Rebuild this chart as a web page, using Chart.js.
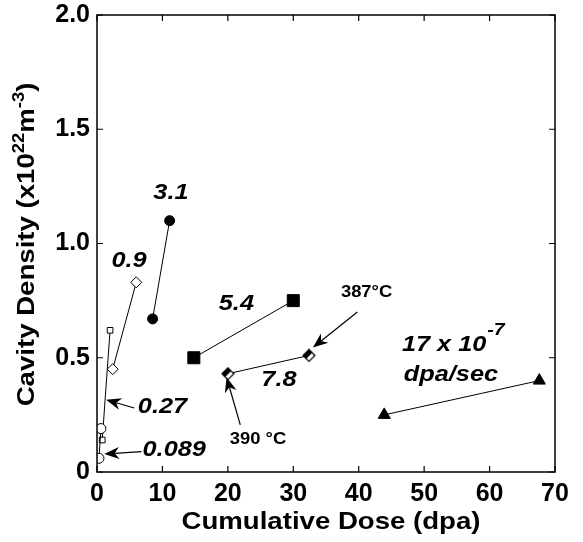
<!DOCTYPE html>
<html>
<head>
<meta charset="utf-8">
<script src="https://cdn.jsdelivr.net/npm/chart.js@4.4.0/dist/chart.umd.min.js"></script>
<style>
  html, body { margin: 0; padding: 0; background: #fff; }
  #wrap { width: 583px; height: 542px; }
</style>
</head>
<body>
<div id="wrap"><canvas id="c"></canvas></div>
<script>
// === Data (dose in dpa, cavity density in 1e22 m^-3) ===
const X_TICKS = [0, 10, 20, 30, 40, 50, 60, 70];
const Y_TICKS = [0, 0.5, 1.0, 1.5, 2.0];

const rate0089 = [{ x: 0.3, y: 0.06 }, { x: 0.6, y: 0.19 }];
const rate027 = [{ x: 0.8, y: 0.14 }, { x: 2.0, y: 0.62 }];
const rate09 = [{ x: 2.4, y: 0.45 }, { x: 6.0, y: 0.83 }];
const rate31 = [{ x: 8.5, y: 0.67 }, { x: 11.1, y: 1.10 }];
const rate54 = [{ x: 14.8, y: 0.50 }, { x: 30.0, y: 0.75 }];
const rate78 = [{ x: 20.0, y: 0.43 }, { x: 32.4, y: 0.51 }];
const rate17 = [{ x: 43.9, y: 0.25 }, { x: 67.6, y: 0.40 }];

// text labels, placed in data units (centre)
const LABELS = [
    { text: '3.1', x: 11.3, y: 1.22, style: 'big' },
    { text: '0.9', x: 4.9, y: 0.925, style: 'big' },
    { text: '5.4', x: 21.3, y: 0.735, style: 'big' },
    { text: '7.8', x: 27.8, y: 0.405, style: 'big' },
    { text: '0.27', x: 10.0, y: 0.285, style: 'big' },
    { text: '0.089', x: 11.8, y: 0.095, style: 'big' },
    { text: '387°C', x: 41.2, y: 0.785, style: 'small' },
    { text: '390 °C', x: 24.6, y: 0.14, style: 'small' },
    { text: 'dpa/sec', x: 54.1, y: 0.425, style: 'big' }
];

// arrows: tail -> head, data units
const ARROWS = [
    { from: [6.8, 0.089], to: [1.1, 0.079] },
    { from: [5.7, 0.28], to: [1.4, 0.316] },
    { from: [21.9, 0.206], to: [19.8, 0.415] },
    { from: [39.8, 0.70], to: [33.0, 0.545] }
];

const FAMILY = '"Liberation Sans", Arial, sans-serif';
const STRETCH = 1.15; // the original lettering is a bit wider than Liberation

// half-filled diamond used for the 7.8 series
function halfDiamond(r) {
    const c = document.createElement('canvas');
    const s = Math.ceil(r * 2 + 2);
    c.width = s; c.height = s;
    const g = c.getContext('2d');
    const m = s / 2;
    g.beginPath();
    g.moveTo(m, m - r); g.lineTo(m + r, m); g.lineTo(m, m + r); g.lineTo(m - r, m); g.closePath();
    g.fillStyle = '#fff'; g.fill();
    g.beginPath();
    g.moveTo(m, m - r); g.lineTo(m + r * 0.55, m - r * 0.45); g.lineTo(m - r * 0.45, m + r * 0.55); g.lineTo(m - r, m); g.closePath();
    g.fillStyle = '#000'; g.fill();
    g.beginPath();
    g.moveTo(m, m - r); g.lineTo(m + r, m); g.lineTo(m, m + r); g.lineTo(m - r, m); g.closePath();
    g.lineWidth = 1.2; g.strokeStyle = '#000'; g.stroke();
    return c;
}

function series(data, style, radius, filled) {
    return {
        data,
        showLine: true,
        borderColor: '#000',
        borderWidth: 1,
        pointStyle: style,
        pointRadius: radius,
        pointHoverRadius: radius,
        pointBorderColor: '#000',
        pointBorderWidth: 1,
        pointBackgroundColor: filled ? '#000' : '#fff'
    };
}

function wideText(ctx, text, x, y, align) {
    ctx.save();
    ctx.translate(x, y);
    ctx.scale(STRETCH, 1);
    ctx.textAlign = align || 'center';
    ctx.fillText(text, 0, 0);
    ctx.restore();
    return ctx.measureText(text).width * STRETCH;
}

const decor = {
    id: 'decor',
    afterDatasetsDraw(chart) {
        const { ctx, chartArea: a, scales: { x, y } } = chart;
        ctx.save();
        ctx.strokeStyle = '#000';
        ctx.fillStyle = '#000';
        // frame
        ctx.lineWidth = 1.5;
        ctx.strokeRect(a.left, a.top, a.right - a.left, a.bottom - a.top);
        // inward ticks on all sides
        ctx.lineWidth = 1.2;
        ctx.beginPath();
        X_TICKS.forEach(v => {
            const px = x.getPixelForValue(v);
            ctx.moveTo(px, a.bottom); ctx.lineTo(px, a.bottom - 6);
            ctx.moveTo(px, a.top); ctx.lineTo(px, a.top + 6);
        });
        Y_TICKS.forEach(v => {
            const py = y.getPixelForValue(v);
            ctx.moveTo(a.left, py); ctx.lineTo(a.left + 6, py);
            ctx.moveTo(a.right, py); ctx.lineTo(a.right - 6, py);
        });
        ctx.stroke();

        // arrows
        ARROWS.forEach(ar => {
            const x0 = x.getPixelForValue(ar.from[0]), y0 = y.getPixelForValue(ar.from[1]);
            const x1 = x.getPixelForValue(ar.to[0]), y1 = y.getPixelForValue(ar.to[1]);
            const ang = Math.atan2(y1 - y0, x1 - x0);
            const L = 15, W = 6;
            const cs = Math.cos(ang), sn = Math.sin(ang);
            ctx.lineWidth = 1.2;
            ctx.beginPath();
            ctx.moveTo(x0, y0);
            ctx.lineTo(x1 - cs * L * 0.7, y1 - sn * L * 0.7);
            ctx.stroke();
            ctx.beginPath();
            ctx.moveTo(x1, y1);
            ctx.lineTo(x1 - cs * L - sn * W, y1 - sn * L + cs * W);
            ctx.lineTo(x1 - cs * L * 0.7, y1 - sn * L * 0.7);
            ctx.lineTo(x1 - cs * L + sn * W, y1 - sn * L - cs * W);
            ctx.closePath();
            ctx.fill();
        });

        // labels
        ctx.textBaseline = 'middle';
        LABELS.forEach(l => {
            ctx.font = l.style === 'big' ? `italic bold 22px ${FAMILY}` : `bold 16px ${FAMILY}`;
            wideText(ctx, l.text, x.getPixelForValue(l.x), y.getPixelForValue(l.y));
        });

        // "17 x 10^-7"
        ctx.font = `italic bold 22px ${FAMILY}`;
        const bx = x.getPixelForValue(46.6), by = y.getPixelForValue(0.557);
        const w = wideText(ctx, '17 x 10', bx, by, 'left');
        ctx.font = `italic bold 17px ${FAMILY}`;
        wideText(ctx, '-7', bx + w + 1, by - 14, 'left');

        // x title
        ctx.font = `bold 24px ${FAMILY}`;
        wideText(ctx, 'Cumulative Dose (dpa)', (a.left + a.right) / 2 + 5, a.bottom + 50);

        // y title with superscripts
        ctx.translate(34, (a.top + a.bottom) / 2 + 1);
        ctx.rotate(-Math.PI / 2);
        ctx.scale(STRETCH, 1);
        ctx.textBaseline = 'alphabetic';
        const parts = [
            ['Cavity Density (x10', 24, 0],
            ['22', 16, -10],
            ['m', 24, 0],
            ['-3', 16, -10],
            [')', 24, 0]
        ];
        let total = 0;
        parts.forEach(p => {
            ctx.font = `bold ${p[1]}px ${FAMILY}`;
            p.w = ctx.measureText(p[0]).width;
            total += p.w;
        });
        let cx = -total / 2;
        ctx.textAlign = 'left';
        parts.forEach(p => {
            ctx.font = `bold ${p[1]}px ${FAMILY}`;
            ctx.fillText(p[0], cx, p[2]);
            cx += p.w;
        });
        ctx.restore();
    }
};

const ds78 = series(rate78, halfDiamond(6), 6, true);

new Chart(document.getElementById('c'), {
    type: 'scatter',
    data: {
        datasets: [
            series(rate0089, 'circle', 5, false),
            series(rate027, 'rect', 4, false),
            series(rate09, 'rectRot', 5.5, false),
            series(rate31, 'circle', 5, true),
            series(rate54, 'rect', 8.5, true),
            ds78,
            series(rate17, 'triangle', 7, true)
        ]
    },
    options: {
        responsive: true,
        maintainAspectRatio: false,
        animation: false,
        events: [],
        layout: { padding: { top: 15, right: 28, left: 0, bottom: 0 } },
        plugins: {
            legend: { display: false },
            tooltip: { enabled: false }
        },
        scales: {
            x: {
                type: 'linear',
                min: 0,
                max: 70,
                afterFit: s => { s.height = 70; s.paddingLeft = 0; s.paddingRight = 0; },
                afterBuildTicks: s => { s.ticks = X_TICKS.map(v => ({ value: v })); },
                grid: { display: false, drawTicks: false },
                border: { display: false },
                ticks: {
                    color: '#000',
                    padding: 10,
                    maxRotation: 0,
                    font: { family: FAMILY, size: 25, weight: 'bold', lineHeight: 1 }
                }
            },
            y: {
                type: 'linear',
                min: 0,
                max: 2,
                afterFit: s => { s.width = 97; s.paddingTop = 0; s.paddingBottom = 0; },
                afterBuildTicks: s => { s.ticks = Y_TICKS.map(v => ({ value: v })); },
                grid: { display: false, drawTicks: false },
                border: { display: false },
                ticks: {
                    color: '#000',
                    padding: 7,
                    font: { family: FAMILY, size: 25, weight: 'bold', lineHeight: 1 },
                    callback: v => v === 0 ? '0' : v.toFixed(1)
                }
            }
        }
    },
    plugins: [decor]
});
</script>
</body>
</html>
